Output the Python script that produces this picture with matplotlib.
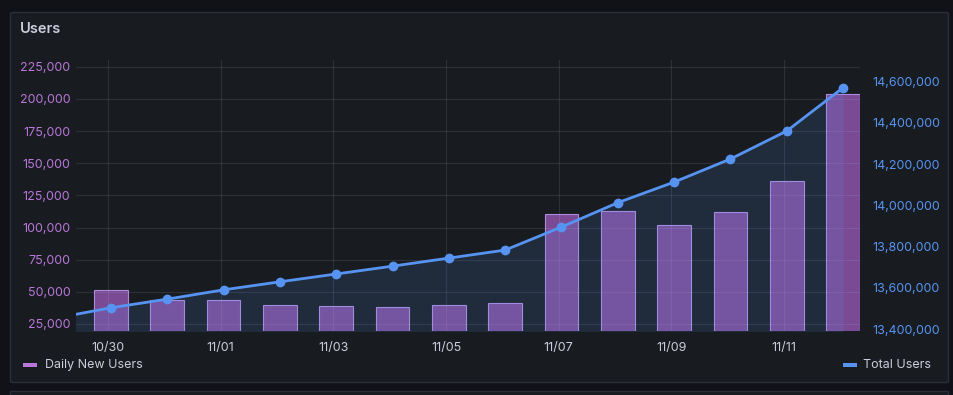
import numpy as np
import matplotlib.pyplot as plt
from matplotlib.patches import Rectangle, FancyBboxPatch
from matplotlib.ticker import FuncFormatter

plt.rcParams['font.family'] = ['Inter', 'DejaVu Sans']

# daten
dates = ['10/30', '10/31', '11/01', '11/02', '11/03', '11/04', '11/05',
         '11/06', '11/07', '11/08', '11/09', '11/10', '11/11', '11/12']
daily_new_users = [51400, 43600, 43600, 39500, 38800, 38000, 39500,
                   41100, 110300, 112600, 101700, 111800, 136400, 203500]
prev_total = 13452000  # 10/29, liegt links ausserhalb
total_users = [13503000, 13545000, 13590000, 13629000, 13667000, 13705000,
               13744000, 13783000, 13895000, 14013000, 14113000, 14225000,
               14361000, 14571000]

W, H = 954, 395
BG_PAGE = '#111217'
BG_PANEL = '#181b1f'
TXT = '#ccccdc'
PURPLE = '#b877d9'
BLUE = '#5794f2'

fig = plt.figure(figsize=(W / 100, H / 100), dpi=100)
fig.patch.set_facecolor(BG_PAGE)

def px(x0, y0, x1, y1):
    return [x0 / W, 1 - y1 / H, (x1 - x0) / W, (y1 - y0) / H]

# panel
fig.patches.append(FancyBboxPatch((10.5 / W, 1 - 382.5 / H), 938 / W, 370 / H,
                                  boxstyle='round,pad=0,rounding_size=0.003',
                                  transform=fig.transFigure, facecolor=BG_PANEL,
                                  edgecolor='#2c2f35', linewidth=1, zorder=-5))
# next panel peeking at the bottom
fig.patches.append(Rectangle((10.5 / W, 1 - 400 / H), 938 / W, 9 / H,
                             transform=fig.transFigure, facecolor=BG_PANEL,
                             edgecolor='#2c2f35', linewidth=1, zorder=-5))
fig.text(20 / W, 1 - 29 / H, 'Users', color=TXT, fontsize=10.5,
         fontweight='semibold', va='center', ha='left')

ax = fig.add_axes(px(76, 60, 860, 331))
ax.set_facecolor('none')
x = np.arange(len(dates))
ax.bar(x, daily_new_users, width=0.6, color='#7a4a95', edgecolor='#ad8bdb',
       linewidth=0.8, zorder=1)
ax.set_ylim(19557, 230200)
ax.set_yticks(np.arange(25000, 225001, 25000))
ax.yaxis.set_major_formatter(FuncFormatter(lambda v, p: f'{int(v):,}'))
ax.set_xlim(-0.62, 13.3)
ax.set_xticks(x[::2] - 0.05)
ax.set_xticklabels(dates[::2])
ax.tick_params(axis='y', colors=PURPLE, labelsize=9, length=0, pad=4)
ax.tick_params(axis='x', colors=TXT, labelsize=9, length=0, pad=8)
ax.grid(True, color='#ccccdc', alpha=0.12, linewidth=0.8)
ax.set_axisbelow(False)
for s in ax.spines.values():
    s.set_visible(False)

ax2 = ax.twinx()
xl = np.arange(-1, len(dates))
yl = [prev_total] + total_users
ax2.fill_between(xl, yl, 13000000, color=BLUE, alpha=0.14, linewidth=0, zorder=1)
ax2.plot(xl, yl, color=BLUE, linewidth=2, marker='o', markersize=6, zorder=3)
ax2.set_ylim(13390300, 14705300)
ax2.set_yticks(np.arange(13400000, 14600001, 200000))
ax2.yaxis.set_major_formatter(FuncFormatter(lambda v, p: f'{int(v):,}'))
ax2.tick_params(axis='y', colors=BLUE, labelsize=9, length=0, pad=9)
for s in ax2.spines.values():
    s.set_visible(False)

# legend
fig.patches.append(Rectangle((23 / W, 1 - 367 / H), 14 / W, 4 / H,
                             transform=fig.transFigure, facecolor=PURPLE,
                             edgecolor='none'))
fig.text(45 / W, 1 - 365 / H, 'Daily New Users', color=TXT, fontsize=9,
         va='center', ha='left')
fig.patches.append(Rectangle((843 / W, 1 - 367 / H), 14 / W, 4 / H,
                             transform=fig.transFigure, facecolor=BLUE,
                             edgecolor='none'))
fig.text(931 / W, 1 - 365 / H, 'Total Users', color=TXT, fontsize=9,
         va='center', ha='right')

fig.savefig('out.png', dpi=100, facecolor=fig.get_facecolor())
